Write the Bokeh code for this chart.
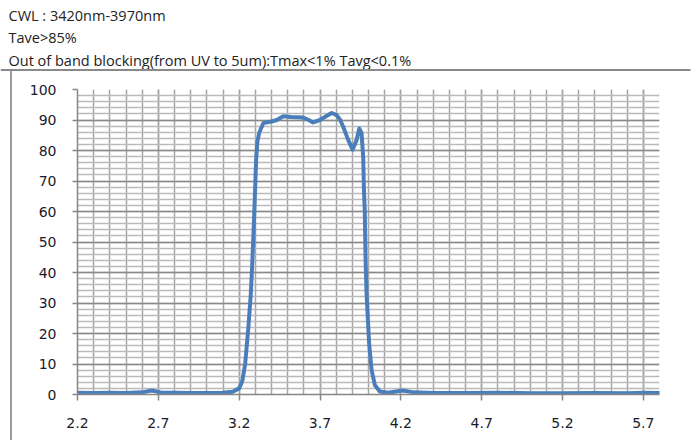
from bokeh.plotting import figure
from bokeh.layouts import column, row
from bokeh.models import FixedTicker, ColumnDataSource, Range1d, Div
from bokeh.core.properties import value
from bokeh.embed import file_html
from bokeh.resources import INLINE

# ---- data ----
wavelength = [2.20, 2.30, 2.40, 2.50, 2.60, 2.66, 2.72, 2.80, 2.90, 3.00,
              3.10, 3.16, 3.20, 3.22, 3.237, 3.257, 3.272, 3.282, 3.293, 3.299,
              3.305, 3.313, 3.325, 3.35, 3.40, 3.433, 3.473, 3.52, 3.595, 3.63,
              3.657, 3.70, 3.74, 3.772, 3.803, 3.825, 3.844, 3.875, 3.902, 3.926,
              3.943, 3.957, 3.967, 3.972, 3.977, 3.982, 3.988, 4.004, 4.019, 4.04,
              4.07, 4.12, 4.21, 4.28, 4.40, 4.60, 4.80, 5.00, 5.20, 5.40,
              5.60, 5.70, 5.80]
transmission = [0.6, 0.5, 0.6, 0.5, 0.7, 1.3, 0.6, 0.6, 0.5, 0.5,
                0.6, 0.9, 2.0, 4.5, 10.0, 22.0, 33.0, 44.0, 59.0, 68.0,
                77.0, 83.0, 86.0, 89.0, 89.5, 90.0, 91.2, 91.0, 90.8, 90.0,
                89.2, 90.0, 91.3, 92.3, 91.6, 90.0, 87.7, 83.4, 80.3, 83.4,
                87.2, 85.7, 78.0, 67.0, 60.0, 44.0, 33.0, 16.7, 8.0, 3.0,
                1.0, 0.6, 1.3, 0.7, 0.5, 0.5, 0.6, 0.4, 0.4, 0.5,
                0.4, 0.6, 0.5]

x_ticks = [2.2, 2.7, 3.2, 3.7, 4.2, 4.7, 5.2, 5.7]
x_minor = [round(2.2 + 0.1 * i, 1) for i in range(37)]
y_ticks = [0, 10, 20, 30, 40, 50, 60, 70, 80, 90, 100]
y_minor = list(range(0, 101, 2))

header_lines = [
    "CWL : 3420nm-3970nm",
    "Tave>85%",
    "Out of band blocking(from UV to 5um):Tmax<1% Tavg<0.1%",
]


def bare(fig):
    fig.axis.visible = False
    fig.grid.visible = False
    fig.outline_line_color = None
    fig.min_border = 0
    fig.border_fill_color = "white"
    fig.background_fill_color = "white"


# ---- header (pixel-space figure) ----
HW, HH = 696, 71
header = figure(width=HW, height=HH, x_range=Range1d(0, HW), y_range=Range1d(HH, 0),
                output_backend="svg", toolbar_location=None)
bare(header)
header.text(x=[8, 8, 8], y=[14.5, 37, 59.5], text=header_lines,
            text_font=value("Open Sans"), text_font_size="14.5px",
            text_baseline="middle", text_align="left", text_color="#222222")
header.segment(x0=[0], y0=[69.5], x1=[690], y1=[69.5],
               line_color="#8a8a8a", line_width=2)

# ---- left border line ----
MH = 369
strip = Div(text="", width=2, height=MH, margin=(0, 0, 0, 10),
            styles={"background-color": "#9a9a9a"})

# ---- main chart ----
src = ColumnDataSource(data=dict(x=wavelength, y=transmission))

p = figure(width=684, height=MH, x_range=(2.2, 5.8), y_range=(0, 100),
           output_backend="svg", toolbar_location=None,
           min_border_left=65, min_border_right=37,
           min_border_top=18, min_border_bottom=46)
p.outline_line_color = None
p.background_fill_color = "white"
p.border_fill_color = "white"

p.xaxis.ticker = FixedTicker(ticks=x_ticks, minor_ticks=x_minor)
p.yaxis.ticker = FixedTicker(ticks=y_ticks, minor_ticks=y_minor)
p.xgrid.grid_line_color = "#a4a4a4"
p.xgrid.grid_line_width = 1.5
p.xgrid.minor_grid_line_color = "#a4a4a4"
p.xgrid.minor_grid_line_width = 1.5
p.ygrid.grid_line_color = "#8a8a8a"
p.ygrid.grid_line_width = 1.5
p.ygrid.minor_grid_line_color = "#bababa"
p.ygrid.minor_grid_line_width = 1.5

for ax in (p.xaxis[0], p.yaxis[0]):
    ax.axis_line_color = "#868686"
    ax.axis_line_width = 1.5
    ax.major_tick_line_color = "#868686"
    ax.major_tick_line_width = 1.5
    ax.major_tick_in = 0
    ax.minor_tick_in = 0
    ax.minor_tick_out = 0
    ax.major_label_text_font = "DejaVu Sans"
    ax.major_label_text_font_size = "14px"
    ax.major_label_text_color = "#1a1a2a"

p.xaxis.major_tick_out = 6
p.xaxis.major_label_standoff = 17
p.yaxis.major_tick_out = 5
p.yaxis.major_label_standoff = 16

p.line("x", "y", source=src, line_color="#4a7ebb", line_width=4,
       line_join="round", line_cap="round")

layout = column(header, row(strip, p, spacing=0), spacing=0)

open("out.html", "w").write(file_html(layout, INLINE))
